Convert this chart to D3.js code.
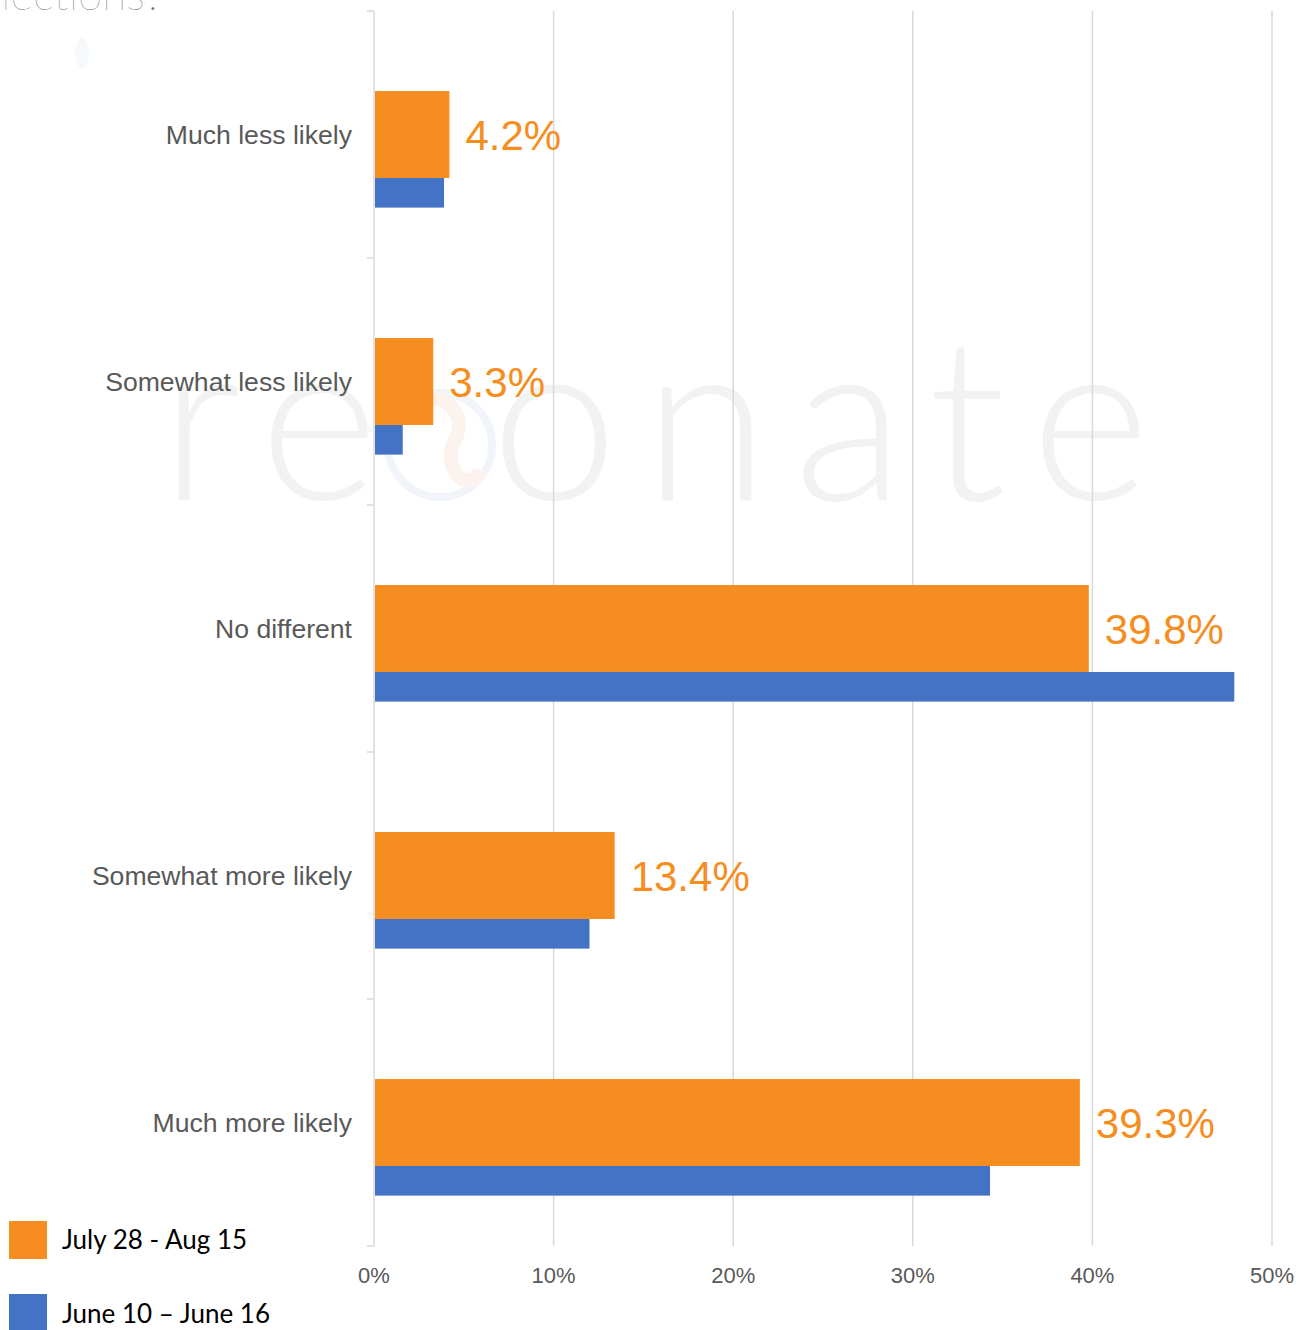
<!DOCTYPE html>
<html><head><meta charset="utf-8">
<script src="https://cdn.jsdelivr.net/npm/d3@7/dist/d3.min.js"></script>
<style>body{margin:0;background:#fff}svg{display:block}</style>
</head><body>
<svg id="chart" width="1305" height="1330"></svg>
<script>
const categories = ["Much less likely","Somewhat less likely","No different","Somewhat more likely","Much more likely"];
const seriesNames = ["July 28 - Aug 15","June 10 – June 16"];
const julyAug = [4.2, 3.3, 39.8, 13.4, 39.3];
const juneVals = [3.9, 1.6, 47.9, 12.0, 34.3];
const xTicks = [0,10,20,30,40,50];
const colors = ["#F68D20","#4472C4"];

const svg = d3.select("#chart");
const x = d3.scaleLinear().domain([0,50]).range([374,1272]);
const y = d3.scaleBand().domain(categories).range([11,1246]).paddingInner(0);
const bw = y.bandwidth();
const orangeH = bw*0.352, blueH = bw*0.12;

// title fragment (cut off at top edge, as in the source)
svg.append("text").attr("x",163).attr("y",10).attr("text-anchor","end")
  .attr("font-family","Lato, 'Open Sans', sans-serif").attr("font-weight",200)
  .attr("font-size",44).attr("fill","#6f6f6f").text("lections?");
svg.append("ellipse").attr("cx",82).attr("cy",53).attr("rx",7).attr("ry",15).attr("fill","#f6f9fc");

// watermark
const wm = svg.append("g");
wm.append("circle").attr("cx",440).attr("cy",445).attr("r",52).attr("fill","none").attr("stroke","#f1f5fa").attr("stroke-width",8);
wm.append("path").attr("d","M410,400 C440,390 470,410 455,440 C440,470 470,495 480,470").attr("fill","none").attr("stroke","#fcf2ee").attr("stroke-width",14);
wm.append("text").attr("x",160).attr("y",500)
  .attr("font-family","Lato, 'Open Sans', sans-serif").attr("font-weight",300)
  .attr("font-size",228).attr("fill","#f2f2f2")
  .attr("textLength",990).attr("lengthAdjust","spacing").text("re onate");

// gridlines
svg.append("g").selectAll("line").data(xTicks).join("line")
  .attr("x1",d=>x(d)).attr("x2",d=>x(d)).attr("y1",11).attr("y2",1246)
  .attr("stroke","#d9d9d9").attr("stroke-width",1.5);

// category tick marks
const bounds = categories.map(c=>y(c)).concat([1246]);
svg.append("g").selectAll("line").data(bounds).join("line")
  .attr("x1",367).attr("x2",374).attr("y1",d=>d).attr("y2",d=>d)
  .attr("stroke","#d9d9d9").attr("stroke-width",1.5);

// bars
const g = svg.append("g");
g.selectAll("rect.b").data(categories).join("rect").attr("class","b")
  .attr("x",x(0)+1).attr("y",(d)=>y(d)+bw/2+orangeH/2)
  .attr("width",(d,i)=>x(juneVals[i])-x(0)-1).attr("height",blueH).attr("fill",colors[1]);
g.selectAll("rect.o").data(categories).join("rect").attr("class","o")
  .attr("x",x(0)+1).attr("y",(d)=>y(d)+bw/2-orangeH/2)
  .attr("width",(d,i)=>x(julyAug[i])-x(0)-1).attr("height",orangeH).attr("fill",colors[0]);

// value labels
g.selectAll("text.v").data(categories).join("text").attr("class","v")
  .attr("x",(d,i)=>x(julyAug[i])+16).attr("y",d=>y(d)+bw/2+15)
  .attr("font-family","'Liberation Sans', Arial, sans-serif").attr("font-size",42)
  .attr("fill",colors[0]).text((d,i)=>julyAug[i].toFixed(1)+"%");

// category labels
svg.append("g").selectAll("text").data(categories).join("text")
  .attr("x",352).attr("y",d=>y(d)+bw/2+9).attr("text-anchor","end")
  .attr("font-family","'Liberation Sans', Arial, sans-serif").attr("font-size",26.6)
  .attr("fill","#595959").text(d=>d);

// x tick labels
svg.append("g").selectAll("text").data(xTicks).join("text")
  .attr("x",d=>x(d)).attr("y",1283).attr("text-anchor","middle")
  .attr("font-family","'Liberation Sans', Arial, sans-serif").attr("font-size",22)
  .attr("fill","#595959").text(d=>d+"%");

// legend
const lg = svg.append("g");
seriesNames.forEach((s,i)=>{
  lg.append("rect").attr("x",9).attr("y",1221+i*73).attr("width",38).attr("height",38).attr("fill",colors[i]);
  lg.append("text").attr("x",62).attr("y",1249+i*74)
    .attr("font-family","Lato, 'Open Sans', sans-serif").attr("font-size",26)
    .attr("fill","#000").text(s);
});
</script>
</body></html>
